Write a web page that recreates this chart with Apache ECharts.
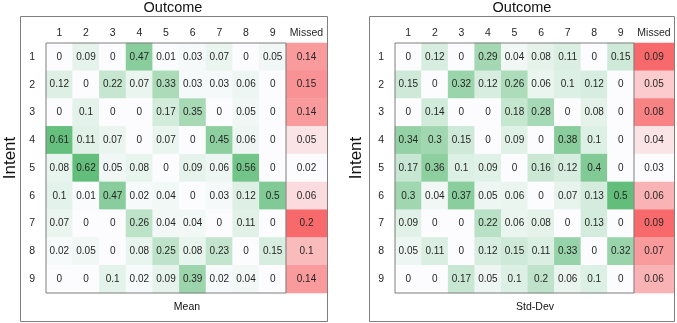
<!DOCTYPE html>
<html>
<head>
<meta charset="utf-8">
<script src="https://cdn.jsdelivr.net/npm/echarts@6/dist/echarts.min.js"></script>
<style>
  html, body { margin: 0; padding: 0; background: #fff; }
  #chart { width: 677px; height: 323px; }
</style>
</head>
<body>
<div id="chart"></div>
<script>
// outcome / intent categories
const outcomes = ['1', '2', '3', '4', '5', '6', '7', '8', '9'];
const intents = ['1', '2', '3', '4', '5', '6', '7', '8', '9'];
const missedLabel = ['Missed'];

// mean confusion values, rows = intent, cols = outcome
const meanValues = [
  [0, 0.09, 0, 0.47, 0.01, 0.03, 0.07, 0, 0.05],
  [0.12, 0, 0.22, 0.07, 0.33, 0.03, 0.03, 0.06, 0],
  [0, 0.1, 0, 0, 0.17, 0.35, 0, 0.05, 0],
  [0.61, 0.11, 0.07, 0, 0.07, 0, 0.45, 0.06, 0],
  [0.08, 0.62, 0.05, 0.08, 0, 0.09, 0.06, 0.56, 0],
  [0.1, 0.01, 0.47, 0.02, 0.04, 0, 0.03, 0.12, 0.5],
  [0.07, 0, 0, 0.26, 0.04, 0.04, 0, 0.11, 0],
  [0.02, 0.05, 0, 0.08, 0.25, 0.08, 0.23, 0, 0.15],
  [0, 0, 0.1, 0.02, 0.09, 0.39, 0.02, 0.04, 0]
];
const meanMissed = [0.14, 0.15, 0.14, 0.05, 0.02, 0.06, 0.2, 0.1, 0.14];

// std-dev values
const stdValues = [
  [0, 0.12, 0, 0.29, 0.04, 0.08, 0.11, 0, 0.15],
  [0.15, 0, 0.32, 0.12, 0.26, 0.06, 0.1, 0.12, 0],
  [0, 0.14, 0, 0, 0.18, 0.28, 0, 0.08, 0],
  [0.34, 0.3, 0.15, 0, 0.09, 0, 0.38, 0.1, 0],
  [0.17, 0.36, 0.1, 0.09, 0, 0.16, 0.12, 0.4, 0],
  [0.3, 0.04, 0.37, 0.05, 0.06, 0, 0.07, 0.13, 0.5],
  [0.09, 0, 0, 0.22, 0.06, 0.08, 0, 0.13, 0],
  [0.05, 0.11, 0, 0.12, 0.15, 0.11, 0.33, 0, 0.32],
  [0, 0, 0.17, 0.05, 0.1, 0.2, 0.06, 0.1, 0]
];
const stdMissed = [0.09, 0.05, 0.08, 0.04, 0.03, 0.06, 0.09, 0.07, 0.06];

const FONT = 'Liberation Sans';
const GREEN = ['#FCFCFF', '#63BE7B'];
const RED = ['#FCFCFF', '#F8696B'];

function toCells(matrix) {
  const out = [];
  matrix.forEach((row, r) => row.forEach((v, c) => out.push([c, r, v])));
  return out;
}
function colCells(arr) {
  return arr.map((v, r) => [0, r, v]);
}
function range(arr) {
  return [Math.min(...arr), Math.max(...arr)];
}

const grids = [
  { left: 46, top: 43, width: 240, height: 250 },
  { left: 286, top: 43, width: 41, height: 250 },
  { left: 395, top: 43, width: 239, height: 250 },
  { left: 634, top: 43, width: 40, height: 250 }
].map((g, i) => Object.assign(g, {
  show: i % 2 === 0,
  borderColor: '#7f7f7f',
  borderWidth: 1,
  backgroundColor: 'transparent',
  z: 5
}));

const axisText = { fontFamily: FONT, fontSize: 10.5, color: '#262626' };

const xAxis = grids.map((g, i) => ({
  type: 'category',
  gridIndex: i,
  position: 'top',
  data: i % 2 === 0 ? outcomes : missedLabel,
  axisLine: { show: false },
  axisTick: { show: false },
  splitLine: { show: false },
  axisLabel: Object.assign({ margin: 4 }, axisText)
}));

const yAxis = grids.map((g, i) => ({
  type: 'category',
  gridIndex: i,
  inverse: true,
  data: intents,
  axisLine: { show: false },
  axisTick: { show: false },
  splitLine: { show: false },
  axisLabel: Object.assign({ show: i % 2 === 0, margin: 11 }, axisText)
}));

const seriesData = [
  toCells(meanValues), colCells(meanMissed),
  toCells(stdValues), colCells(stdMissed)
];
const ranges = [
  range(meanValues.flat()), range(meanMissed),
  range(stdValues.flat()), range(stdMissed)
];

const visualMap = seriesData.map((d, i) => ({
  show: false,
  seriesIndex: i,
  min: ranges[i][0],
  max: ranges[i][1],
  inRange: { color: i % 2 === 0 ? GREEN : RED }
}));

const series = seriesData.map((d, i) => ({
  type: 'heatmap',
  xAxisIndex: i,
  yAxisIndex: i,
  data: d,
  label: {
    show: true,
    fontFamily: FONT,
    fontSize: 10,
    color: '#262626',
    formatter: p => String(p.value[2])
  },
  itemStyle: { borderWidth: 0 },
  emphasis: { disabled: true }
}));

const boxes = [
  { x: 20, y: 16, w: 307, h: 305 },
  { x: 369, y: 16, w: 305, h: 305 }
];

const graphic = [];
boxes.forEach(b => graphic.push({
  type: 'rect',
  shape: { x: b.x + 0.5, y: b.y + 0.5, width: b.w, height: b.h },
  style: { fill: 'none', stroke: '#7f7f7f', lineWidth: 1 },
  z: 10
}));
[
  { t: 'Outcome', x: 173, y: 8, size: 14.5 },
  { t: 'Outcome', x: 522, y: 8, size: 14.5 },
  { t: 'Mean', x: 187, y: 307, size: 10.5 },
  { t: 'Std-Dev', x: 535, y: 307, size: 10.5 }
].forEach(o => graphic.push({
  type: 'text',
  x: o.x, y: o.y,
  style: {
    text: o.t, font: o.size + 'px "' + FONT + '"', fill: '#111',
    textAlign: 'center', textVerticalAlign: 'middle'
  }
}));
[{ x: 10, y: 158 }, { x: 356, y: 158 }].forEach(o => graphic.push({
  type: 'text',
  x: o.x, y: o.y,
  rotation: Math.PI / 2,
  style: {
    text: 'Intent', font: '17px "' + FONT + '"', fill: '#111',
    textAlign: 'center', textVerticalAlign: 'middle'
  }
}));

const chart = echarts.init(document.getElementById('chart'));
chart.setOption({
  animation: false,
  backgroundColor: '#fff',
  grid: grids,
  xAxis: xAxis,
  yAxis: yAxis,
  visualMap: visualMap,
  series: series,
  graphic: graphic
});
</script>
</body>
</html>
